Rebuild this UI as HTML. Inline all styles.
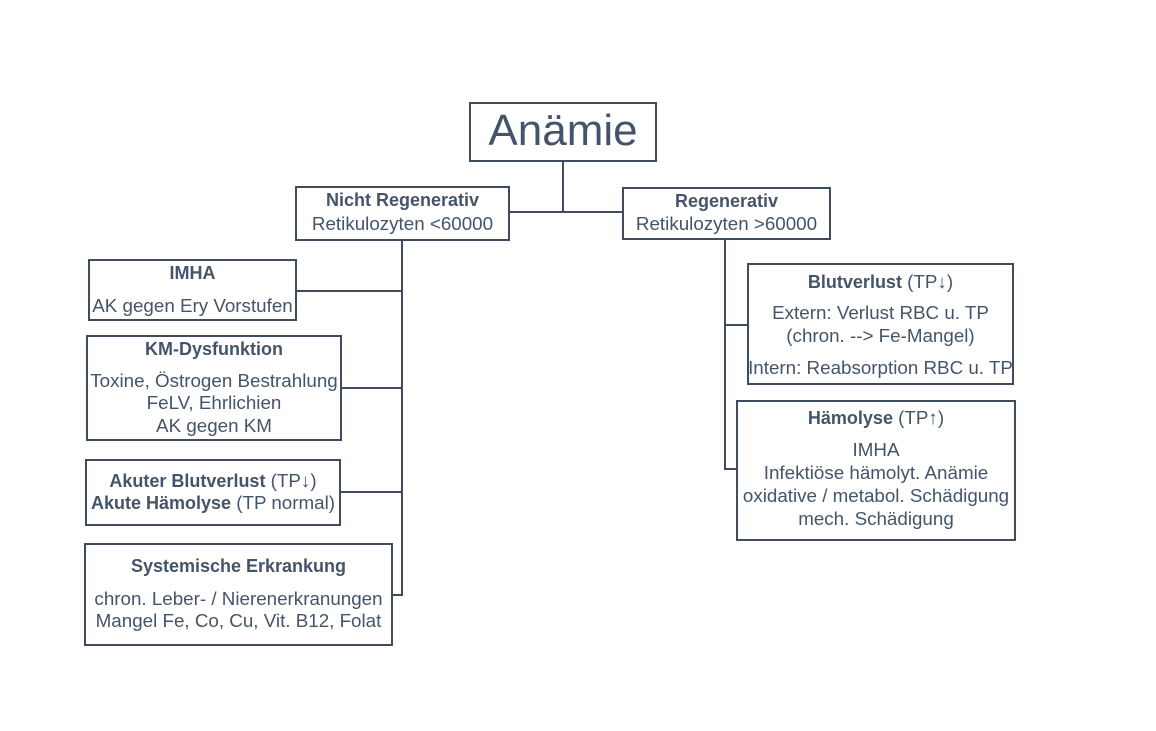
<!DOCTYPE html>
<html><head><meta charset="utf-8"><style>
html,body{margin:0;padding:0;background:#fff;}
body{width:1156px;height:731px;position:relative;overflow:hidden;font-family:"Liberation Sans",Arial,sans-serif;color:#44546a;}
.b{position:absolute;border:2px solid #3f4b5e;box-sizing:border-box;background:#fff;}
.l{position:absolute;background:#3f4b5e;}
.t{position:absolute;white-space:nowrap;text-align:center;line-height:22px;font-size:18.8px;}
.t b{font-size:18px;}
</style></head><body>
<!-- connectors -->
<div class="l" style="left:562px;top:161px;width:2px;height:52px"></div>
<div class="l" style="left:509px;top:211px;width:114px;height:2px"></div>
<div class="l" style="left:401px;top:240px;width:2px;height:356px"></div>
<div class="l" style="left:296px;top:290px;width:106px;height:2px"></div>
<div class="l" style="left:341px;top:387px;width:61px;height:2px"></div>
<div class="l" style="left:340px;top:491px;width:62px;height:2px"></div>
<div class="l" style="left:392px;top:594px;width:11px;height:2px"></div>
<div class="l" style="left:724px;top:239px;width:2px;height:231px"></div>
<div class="l" style="left:724px;top:324px;width:24px;height:2px"></div>
<div class="l" style="left:724px;top:468px;width:13px;height:2px"></div>

<!-- boxes -->
<div class="b" style="left:469px;top:102px;width:188px;height:60px"></div>
<div class="b" style="left:295px;top:186px;width:215px;height:55px"></div>
<div class="b" style="left:622px;top:187px;width:209px;height:53px"></div>
<div class="b" style="left:88px;top:259px;width:209px;height:62px"></div>
<div class="b" style="left:86px;top:335px;width:256px;height:106px"></div>
<div class="b" style="left:85px;top:459px;width:256px;height:67px"></div>
<div class="b" style="left:84px;top:543px;width:309px;height:103px"></div>
<div class="b" style="left:747px;top:263px;width:267px;height:122px"></div>
<div class="b" style="left:736px;top:400px;width:280px;height:141px"></div>

<!-- texts -->
<div class="t" style="left:469px;width:188px;top:106px;line-height:50px;font-size:44px;">Anämie</div>

<div class="t" style="left:295px;width:215px;top:189px;"><b>Nicht Regenerativ</b></div>
<div class="t" style="left:295px;width:215px;top:213px;">Retikulozyten &lt;60000</div>

<div class="t" style="left:622px;width:209px;top:190px;"><b>Regenerativ</b></div>
<div class="t" style="left:622px;width:209px;top:213px;">Retikulozyten &gt;60000</div>

<div class="t" style="left:88px;width:209px;top:262px;"><b>IMHA</b></div>
<div class="t" style="left:88px;width:209px;top:295px;">AK gegen Ery Vorstufen</div>

<div class="t" style="left:86px;width:256px;top:338px;"><b>KM-Dysfunktion</b></div>
<div class="t" style="left:86px;width:256px;top:370px;">Toxine, Östrogen Bestrahlung</div>
<div class="t" style="left:86px;width:256px;top:392px;">FeLV, Ehrlichien</div>
<div class="t" style="left:86px;width:256px;top:415px;">AK gegen KM</div>

<div class="t" style="left:85px;width:256px;top:470px;"><b>Akuter Blutverlust</b> (TP↓)</div>
<div class="t" style="left:85px;width:256px;top:492px;"><b>Akute Hämolyse</b> (TP normal)</div>

<div class="t" style="left:84px;width:309px;top:555px;"><b>Systemische Erkrankung</b></div>
<div class="t" style="left:84px;width:309px;top:588px;">chron. Leber- / Nierenerkranungen</div>
<div class="t" style="left:84px;width:309px;top:610px;">Mangel Fe, Co, Cu, Vit. B12, Folat</div>

<div class="t" style="left:747px;width:267px;top:271px;"><b>Blutverlust</b> (TP↓)</div>
<div class="t" style="left:747px;width:267px;top:302px;">Extern: Verlust RBC u. TP</div>
<div class="t" style="left:747px;width:267px;top:325px;">(chron. --&gt; Fe-Mangel)</div>
<div class="t" style="left:747px;width:267px;top:357px;">Intern: Reabsorption RBC u. TP</div>

<div class="t" style="left:736px;width:280px;top:407px;"><b>Hämolyse</b> (TP↑)</div>
<div class="t" style="left:736px;width:280px;top:439px;">IMHA</div>
<div class="t" style="left:736px;width:280px;top:462px;">Infektiöse hämolyt. Anämie</div>
<div class="t" style="left:736px;width:280px;top:485px;">oxidative / metabol. Schädigung</div>
<div class="t" style="left:736px;width:280px;top:508px;">mech. Schädigung</div>
</body></html>
